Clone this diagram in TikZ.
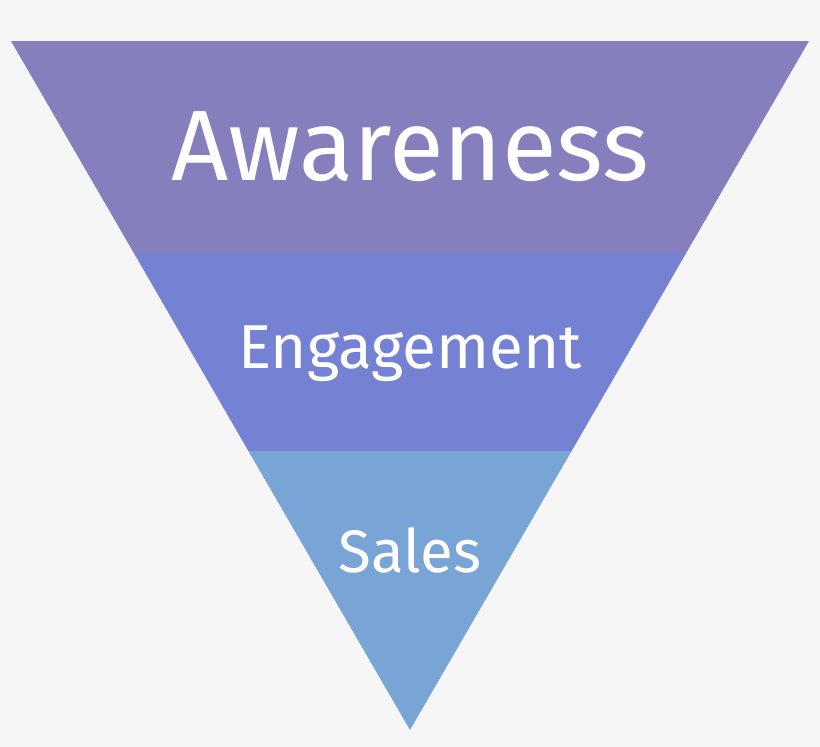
\documentclass[tikz,border=0pt]{standalone}
\usepackage{fontspec}
\setmainfont{Fira Sans}
\definecolor{bg}{HTML}{F6F6F6}
\definecolor{cA}{HTML}{8580BD}
\definecolor{cB}{HTML}{7582D3}
\definecolor{cC}{HTML}{78A4D6}
\begin{document}
\begin{tikzpicture}[x=1pt,y=-1pt,lbl/.style={text=white,anchor=base,inner sep=0pt}]
\fill[bg] (0,0) rectangle (820,747);
\useasboundingbox (0,0) rectangle (820,747);
\fill[cA] (11,41) -- (809,41) -- (686.2,253) -- (133.8,253) -- cycle;
\fill[cB] (133.8,253) -- (686.2,253) -- (571.6,451) -- (248.4,451) -- cycle;
\fill[cC] (248.4,451) -- (571.6,451) -- (410,730) -- cycle;
\node[lbl,font=\fontsize{100}{100}\selectfont] (a) at (410,180) {Awareness};
\node[lbl,font=\fontsize{62}{62}\selectfont] (e) at (410,368) {Engagement};
\node[lbl,font=\fontsize{60}{60}\selectfont] (s) at (410,572) {Sales};
\end{tikzpicture}
\end{document}
